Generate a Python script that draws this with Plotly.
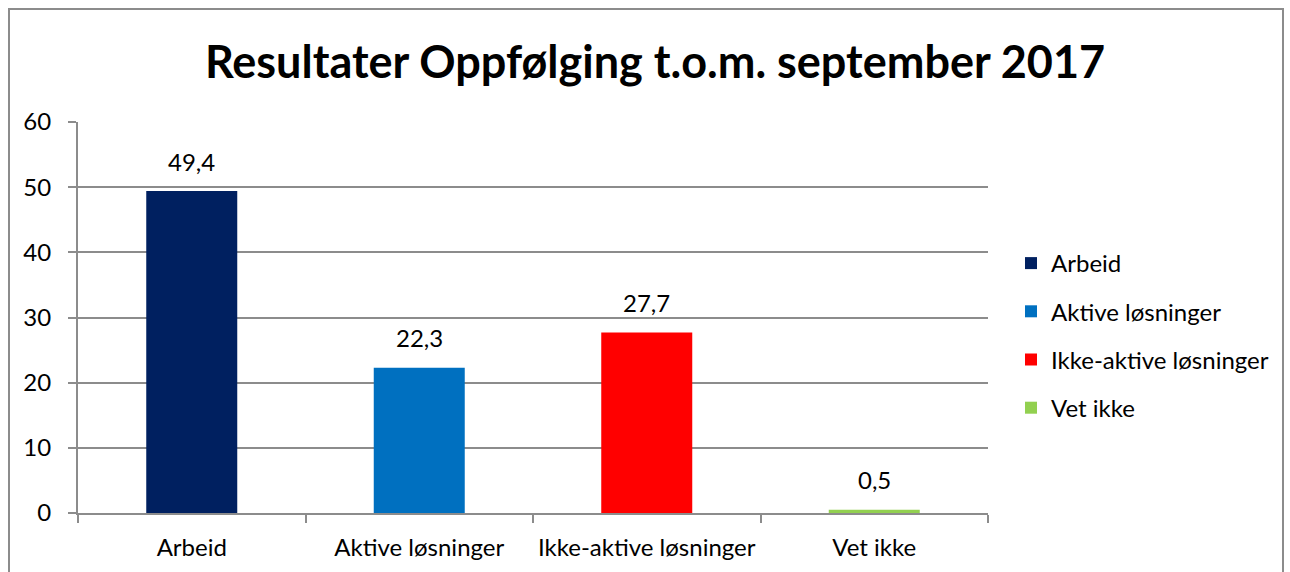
import plotly.graph_objects as go

categories = ["Arbeid", "Aktive løsninger", "Ikke-aktive løsninger", "Vet ikke"]
values = [49.4, 22.3, 27.7, 0.5]
colors = ["#002060", "#0070C0", "#FF0000", "#92D050"]
y_ticks = [0, 10, 20, 30, 40, 50, 60]

W, H = 1290, 572
L, R, T, B = 78, 988, 122, 513

fig = go.Figure()
for i, (c, v, col) in enumerate(zip(categories, values, colors)):
    fig.add_trace(go.Bar(
        x=[c], y=[v], name=c, marker=dict(color=col, line=dict(width=0)),
        width=0.4, legendgroup=f"g{i}",
    ))
    fig.add_annotation(x=c, y=v, xref="x", yref="y",
                       text=f"{v:.1f}".replace(".", ","), showarrow=False,
                       yanchor="middle", yshift=30,
                       font=dict(size=24, color="#000000"))

def px_to_paper_x(px):
    return (px - L) / (R - L)

def px_to_paper_y(py):
    return (B - py) / (B - T)

fig.add_shape(type="rect", xref="paper", yref="paper",
              x0=px_to_paper_x(9), x1=px_to_paper_x(1283),
              y0=px_to_paper_y(600), y1=px_to_paper_y(9),
              line=dict(color="#8c8c8c", width=2), fillcolor="rgba(0,0,0,0)", layer="below")

fig.update_layout(
    width=W, height=H,
    margin=dict(l=L, r=W - R, t=T, b=H - B, autoexpand=False),
    paper_bgcolor="white", plot_bgcolor="white",
    separators=", ",
    barmode="overlay",
    font=dict(family="Lato, Carlito, Calibri, sans-serif", size=24, color="#000000"),
    title=dict(text="<b>Resultater Oppfølging t.o.m. september 2017</b>",
               x=655 / W, xanchor="center", y=1 - 62 / H, yanchor="middle",
               font=dict(size=45, color="#000000")),
    showlegend=True,
    legend=dict(x=px_to_paper_x(1011), xanchor="left", y=px_to_paper_y(241), yanchor="top",
                traceorder="grouped", tracegroupgap=14,
                font=dict(size=24), itemsizing="constant", bgcolor="rgba(0,0,0,0)"),
    xaxis=dict(type="category", categoryorder="array", categoryarray=categories,
               showline=True, linecolor="#8c8c8c", linewidth=2,
               ticks="outside", tickson="boundaries", ticklen=8, tickcolor="#8c8c8c", tickwidth=2,
               showgrid=False, tickfont=dict(size=24), tickangle=0,
               ticklabelstandoff=12, automargin=False),
    yaxis=dict(range=[0, 60], tickvals=y_ticks, showline=True, linecolor="#8c8c8c", linewidth=2,
               ticks="outside", ticklen=8, tickcolor="#8c8c8c", tickwidth=2,
               showgrid=True, gridcolor="#8c8c8c", gridwidth=1.5, zeroline=False,
               tickfont=dict(size=24), ticklabelstandoff=12, automargin=False),
)

fig.write_html("out.html", config={"displayModeBar": False},
               post_script="document.body.style.margin='0';")
